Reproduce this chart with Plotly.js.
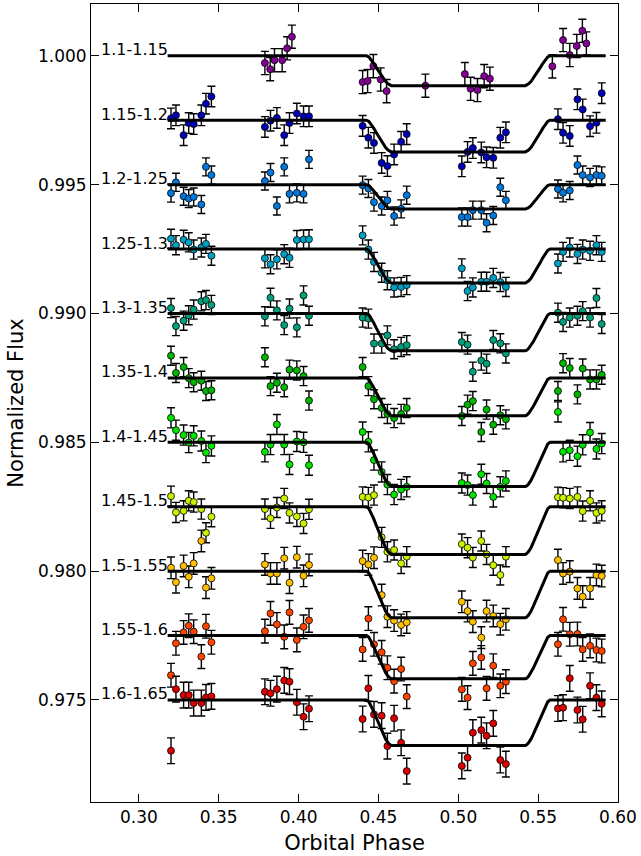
<!DOCTYPE html>
<html>
<head>
<meta charset="utf-8">
<script src="https://cdn.plot.ly/plotly-3.0.1.min.js"></script>
<style>html,body{margin:0;padding:0;background:#fff;}#chart{width:641px;height:856px;}</style>
</head>
<body>
<div id="chart"></div>
<script>
// ---- data ----
const bandLabels = ["1.1-1.15","1.15-1.2","1.2-1.25","1.25-1.3","1.3-1.35","1.35-1.4","1.4-1.45","1.45-1.5","1.5-1.55","1.55-1.6","1.6-1.65"];
const baselines = [1.000,0.9975,0.995,0.9925,0.990,0.9875,0.985,0.9825,0.980,0.9775,0.975];
const depths = [0.00116,0.00123,0.00095,0.00132,0.00145,0.00147,0.00172,0.00185,0.00181,0.00168,0.00177];
const errors = [0.00045,0.00040,0.00035,0.00037,0.00037,0.00037,0.00039,0.00039,0.00042,0.00046,0.00050];
const colors = ["#840094","#0000b8","#0078dc","#00a0c4","#00a07c","#00b400","#00e400","#ccf000","#ffc000","#ff4400","#dc0000"];

// model transit shape (fraction of depth)
const modelPhase = [0.318,0.4425,0.4440,0.4455,0.4470,0.4485,0.4500,0.4515,0.4530,0.4545,0.4560,0.4572,0.458,
  0.542,0.5428,0.5440,0.5455,0.5470,0.5485,0.5500,0.5515,0.5530,0.5545,0.5560,0.5575,0.5923];
const modelShape = [0,0,0.04,0.13,0.25,0.38,0.51,0.63,0.75,0.86,0.94,0.985,1,
  1,0.985,0.94,0.86,0.75,0.63,0.51,0.38,0.25,0.13,0.04,0,0];

// shared phase grid (bands 2-11)
const phaseGrid = [0.3201,0.3232,0.3280,0.3312,0.3343,0.3391,0.3420,0.3454,
  0.3789,0.3824,0.3864,0.3910,0.3943,0.3989,0.4031,0.4065,
  0.4401,0.4437,0.4472,0.4520,0.4556,0.4598,0.4642,0.4677,
  0.5022,0.5058,0.5091,0.5144,0.5177,0.5219,0.5263,0.5298,
  0.5624,0.5656,0.5698,0.5746,0.5779,0.5825,0.5865,0.5898];

// band 1 has its own sampling
const phaseBand1 = [0.3789,0.3822,0.3849,0.3897,0.3928,0.3958,
  0.4401,0.4432,0.4468,0.4514,0.4551,0.4794,
  0.5041,0.5077,0.5120,0.5162,0.5198,
  0.5589,0.5656,0.5698,0.5742,0.5777,0.5802];
const flux1 = [0.99972,0.99948,0.99983,0.99983,1.00029,1.00074,
  0.99898,0.99902,0.99960,0.99908,0.99863,0.99884,
  0.99929,0.99872,0.99867,0.99921,0.99911,
  0.99959,1.00061,1.00003,1.00038,1.00097,1.00048];

const flux2 = [0.99757,0.99769,0.99692,0.99739,0.99735,0.99769,0.99814,0.99842,
  0.99724,0.99748,0.99759,0.99692,0.99739,0.99776,0.99765,0.99765,
  0.99728,0.99682,0.99662,0.99584,0.99572,0.99617,0.99666,0.99696,
  0.99571,0.99627,0.99642,0.99625,0.99606,0.99604,0.99682,0.99703,
  0.99754,0.99701,0.99689,0.99831,0.99792,0.99727,0.99740,0.99855];
const flux3 = [0.99467,0.99509,0.99455,0.99446,0.99452,0.99423,0.99569,0.99537,
  0.99514,0.99547,0.99417,0.99569,0.99464,0.99468,0.99464,0.99598,
  0.99498,0.99485,0.99432,0.99417,0.99439,0.99378,0.99406,0.99459,
  0.99374,0.99374,0.99401,0.99401,0.99352,0.99380,0.99490,0.99439,
  0.99483,0.99468,0.99477,0.99576,0.99537,0.99528,0.99537,0.99534];
const flux4 = [0.99290,0.99265,0.99286,0.99276,0.99248,0.99256,0.99270,0.99224,
  0.99214,0.99191,0.99210,0.99230,0.99216,0.99285,0.99287,0.99288,
  0.99303,0.99248,0.99200,0.99158,0.99129,0.99101,0.99103,0.99110,
  0.99175,0.99087,0.99101,0.99123,0.99123,0.99138,0.99122,0.99103,
  0.99194,0.99239,0.99256,0.99231,0.99248,0.99243,0.99265,0.99239];
const flux5 = [0.99021,0.98951,0.98972,0.98993,0.99015,0.99047,0.99052,0.99033,
  0.98989,0.99061,0.99012,0.98955,0.99019,0.98946,0.99070,0.98991,
  0.98984,0.98980,0.98883,0.98883,0.98915,0.98861,0.98870,0.98877,
  0.98889,0.98879,0.98774,0.98817,0.98805,0.98897,0.98884,0.98845,
  0.99003,0.98967,0.98984,0.98991,0.99009,0.98984,0.99060,0.98959];
const flux6 = [0.98836,0.98769,0.98792,0.98749,0.98733,0.98739,0.98699,0.98702,
  0.98830,0.98718,0.98731,0.98714,0.98782,0.98779,0.98757,0.98662,
  0.98792,0.98718,0.98667,0.98633,0.98610,0.98594,0.98610,0.98633,
  0.98602,0.98646,0.98660,0.98540,0.98627,0.98568,0.98605,0.98589,
  0.98699,0.98807,0.98788,0.98686,0.98786,0.98744,0.98744,0.98762];
const flux7 = [0.98595,0.98547,0.98528,0.98499,0.98525,0.98505,0.98460,0.98486,
  0.98463,0.98491,0.98569,0.98491,0.98414,0.98503,0.98500,0.98411,
  0.98540,0.98502,0.98431,0.98385,0.98336,0.98297,0.98317,0.98327,
  0.98342,0.98334,0.98295,0.98376,0.98340,0.98288,0.98327,0.98350,
  0.98618,0.98463,0.98469,0.98446,0.98490,0.98538,0.98474,0.98495];
const flux8 = [0.98291,0.98228,0.98234,0.98273,0.98268,0.98241,0.98149,0.98211,
  0.98241,0.98205,0.98247,0.98282,0.98226,0.98212,0.98185,0.98240,
  0.98288,0.98286,0.98295,0.98131,0.98075,0.98082,0.98030,0.98056,
  0.98105,0.98091,0.98053,0.98117,0.98065,0.98023,0.97985,0.98056,
  0.98287,0.98285,0.98282,0.98288,0.98233,0.98273,0.98226,0.98234];
const flux9 = [0.98013,0.97957,0.98020,0.97978,0.98030,0.98117,0.97936,0.97972,
  0.98026,0.97991,0.97991,0.98050,0.97955,0.98054,0.97982,0.98024,
  0.98039,0.98026,0.98052,0.97907,0.97823,0.97808,0.97791,0.97801,
  0.97881,0.97845,0.97804,0.97742,0.97845,0.97826,0.97794,0.97813,
  0.98043,0.97991,0.97998,0.97933,0.97901,0.97933,0.97985,0.97981];
const flux10 = [0.97596,0.97720,0.97762,0.97788,0.97765,0.97668,0.97786,0.97724,
  0.97767,0.97836,0.97793,0.97745,0.97840,0.97733,0.97784,0.97809,
  0.97696,0.97816,0.97716,0.97685,0.97625,0.97573,0.97620,0.97513,
  0.97541,0.97509,0.97642,0.97665,0.97545,0.97633,0.97555,0.97571,
  0.97716,0.97813,0.97755,0.97756,0.97696,0.97710,0.97694,0.97690];
const flux11 = [0.97303,0.97542,0.97519,0.97519,0.97488,0.97488,0.97510,0.97514,
  0.97532,0.97526,0.97542,0.97576,0.97571,0.97491,0.97435,0.97466,
  0.97426,0.97545,0.97444,0.97439,0.97321,0.97429,0.97334,0.97224,
  0.97244,0.97276,0.97373,0.97383,0.97361,0.97409,0.97267,0.97251,
  0.97467,0.97470,0.97584,0.97461,0.97425,0.97555,0.97509,0.97485];

const xTicks = [0.30,0.35,0.40,0.45,0.50,0.55,0.60];
const yTicks = [0.975,0.980,0.985,0.990,0.995,1.000];

// ---- build ----
const fluxes = [flux1,flux2,flux3,flux4,flux5,flux6,flux7,flux8,flux9,flux10,flux11];
const phases = [phaseBand1].concat(Array(10).fill(phaseGrid));
const FONT = "DejaVu Sans, sans-serif";
const traces = [];
fluxes.forEach((f,i)=>{
  traces.push({
    type:'scatter', mode:'markers', x:phases[i], y:f,
    marker:{size:7, color:colors[i], line:{color:'black', width:0.8}},
    error_y:{type:'constant', value:errors[i], color:'black', thickness:1.4, width:4},
    hoverinfo:'skip', showlegend:false
  });
});
fluxes.forEach((f,i)=>{
  traces.push({
    type:'scatter', mode:'lines', x:modelPhase,
    y:modelShape.map(s=>baselines[i]-depths[i]*s),
    line:{color:'black', width:3},
    hoverinfo:'skip', showlegend:false
  });
});
const annotations = bandLabels.map((t,i)=>({
  x:0.2749, y:baselines[i], xref:'x', yref:'y', text:t, showarrow:false,
  xanchor:'left', yanchor:'middle', yshift:6, font:{family:FONT, size:16, color:'black'}
}));
const layout = {
  width:641, height:856,
  margin:{l:91, r:23, t:4, b:54},
  paper_bgcolor:'white', plot_bgcolor:'white',
  font:{family:FONT, color:'black'},
  showlegend:false,
  xaxis:{range:[0.27,0.60], tickvals:xTicks, ticktext:xTicks.map(v=>v.toFixed(2)),
    ticks:'inside', ticklen:8, tickwidth:1, tickcolor:'black', mirror:'ticks',
    showline:true, linecolor:'black', linewidth:1, showgrid:false, zeroline:false,
    tickfont:{family:FONT, size:17, color:'black'},
    title:{text:'Orbital Phase', font:{family:FONT, size:21, color:'black'}, standoff:8}},
  yaxis:{range:[0.97104,1.00201], tickvals:yTicks, ticktext:yTicks.map(v=>v.toFixed(3)),
    ticks:'inside', ticklen:8, tickwidth:1, tickcolor:'black', mirror:'ticks',
    showline:true, linecolor:'black', linewidth:1, showgrid:false, zeroline:false,
    tickfont:{family:FONT, size:17, color:'black'},
    title:{text:'Normalized Flux', font:{family:FONT, size:21, color:'black'}, standoff:8}},
  annotations:annotations
};
Plotly.newPlot('chart', traces, layout, {staticPlot:true, displayModeBar:false});
</script>
</body>
</html>
